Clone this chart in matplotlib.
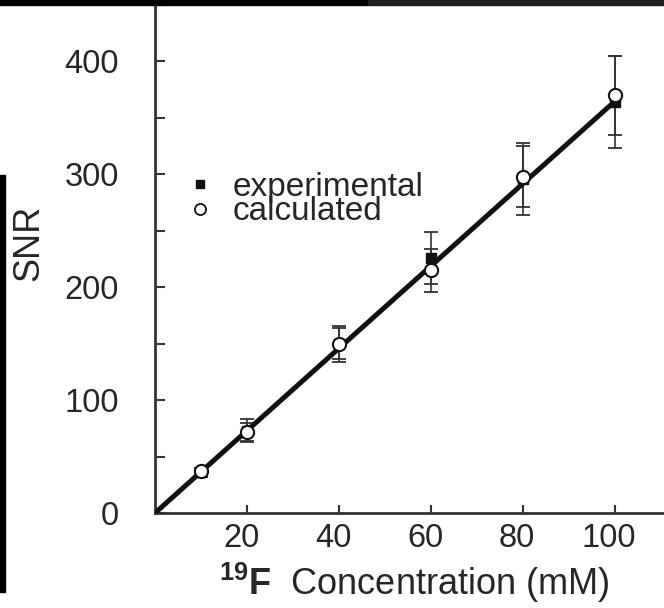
import matplotlib

matplotlib.use("Agg")
import matplotlib.pyplot as plt
import matplotlib.transforms as mtransforms
from matplotlib.lines import Line2D
from matplotlib.patches import Rectangle

# 19F concentration (mM) and signal-to-noise ratios
conc = [10, 20, 40, 60, 80, 100]
snr_experimental = [36, 73, 150, 226, 296, 364]
err_experimental = [4, 10, 16, 23, 32, 41]
snr_calculated = [37, 72, 150, 215, 298, 370]
err_calculated = [3, 8, 14, 19, 27, 35]

# linear fit through the origin
fit_conc = [0, 100]
fit_snr = [0, 365]

x_ticks = [20, 40, 60, 80, 100]
y_ticks = [0, 100, 200, 300, 400]
y_minor = [50, 150, 250, 350, 450]

plt.rcParams["font.family"] = ["Liberation Sans", "DejaVu Sans"]
plt.rcParams["mathtext.fontset"] = "custom"
plt.rcParams["mathtext.rm"] = "Liberation Sans"
plt.rcParams["mathtext.bf"] = "Liberation Sans:bold"

TEXT = "#262626"
INK = "#111111"
TICK_FS = 23.5
LABEL_FS = 26
LEGEND_FS = 24

W, H = 664, 608
fig = plt.figure(figsize=(W / 100, H / 100), dpi=100)
ax = fig.add_axes([155 / W, 1 - 513 / H, 1 - 155 / W, (513 - 5) / H])
ax.set_xlim(0, 110.6)
ax.set_ylim(0, 450)

for side in ("top", "right"):
    ax.spines[side].set_visible(False)
for side in ("left", "bottom"):
    ax.spines[side].set_linewidth(2)
    ax.spines[side].set_color("#333333")

ax.errorbar(conc, snr_experimental, yerr=err_experimental, fmt="none",
            ecolor="#333333", elinewidth=1.2, capsize=5, capthick=1.3, zorder=2)
ax.errorbar(conc, snr_calculated, yerr=err_calculated, fmt="none",
            ecolor="#333333", elinewidth=1.2, capsize=5, capthick=1.3, zorder=2)
ax.plot(fit_conc, fit_snr, color=INK, lw=3.6, solid_capstyle="butt", zorder=3)
ax.plot(conc, snr_experimental, "s", ms=6.5, color=INK, zorder=4)
ax.plot(conc, snr_calculated, "o", ms=9.5, mfc="white", mec=INK, mew=1.5, zorder=5)

ax.set_xticks(x_ticks)
ax.set_yticks(y_ticks)
ax.set_yticks(y_minor, minor=True)
ax.tick_params(axis="y", which="both", direction="in", length=7, width=1.5,
               color="#333333", pad=26, labelsize=TICK_FS, labelcolor=TEXT)
ax.tick_params(axis="x", which="both", direction="in", length=6, width=1.5,
               color="#333333", pad=7, labelsize=TICK_FS, labelcolor=TEXT)

# x tick numbers sit a little left of their ticks
shift = mtransforms.ScaledTranslation(-6 / 100, 0, fig.dpi_scale_trans)
for lbl in ax.get_xticklabels():
    lbl.set_transform(lbl.get_transform() + shift)

ax.set_ylabel("SNR", fontsize=LABEL_FS, color=TEXT)
ax.yaxis.set_label_coords(-0.214, 0.531)
ax.set_xlabel(r"$\mathbf{^{19}F}$  Concentration (mM)", fontsize=LABEL_FS, color=TEXT)
ax.xaxis.set_label_coords(0.509, -0.094)

handles = [
    Line2D([], [], ls="none", marker="s", ms=6, color=INK),
    Line2D([], [], ls="none", marker="o", ms=8, mfc="white", mec=INK, mew=1.3),
]
ax.legend(handles, ["experimental", "calculated"], loc="upper left",
          bbox_to_anchor=(0.055, 0.671), frameon=False, fontsize=LEGEND_FS,
          handlelength=1.0, handletextpad=0.48, labelspacing=-0.2,
          borderpad=0, borderaxespad=0, labelcolor=TEXT)

# dark strips along the top and left edges
fig.patches.append(Rectangle((0, 1 - 5 / H), 368 / W, 5 / H,
                             transform=fig.transFigure, color="black", zorder=10))
fig.patches.append(Rectangle((368 / W, 1 - 5 / H), 1 - 368 / W, 5 / H,
                             transform=fig.transFigure, color="#1e1e1e", zorder=10))
fig.patches.append(Rectangle((0, 1 - 592 / H), 5 / W, (592 - 175) / H,
                             transform=fig.transFigure, color="black", zorder=10))

fig.savefig("out.png", dpi=100)
plt.close(fig)
